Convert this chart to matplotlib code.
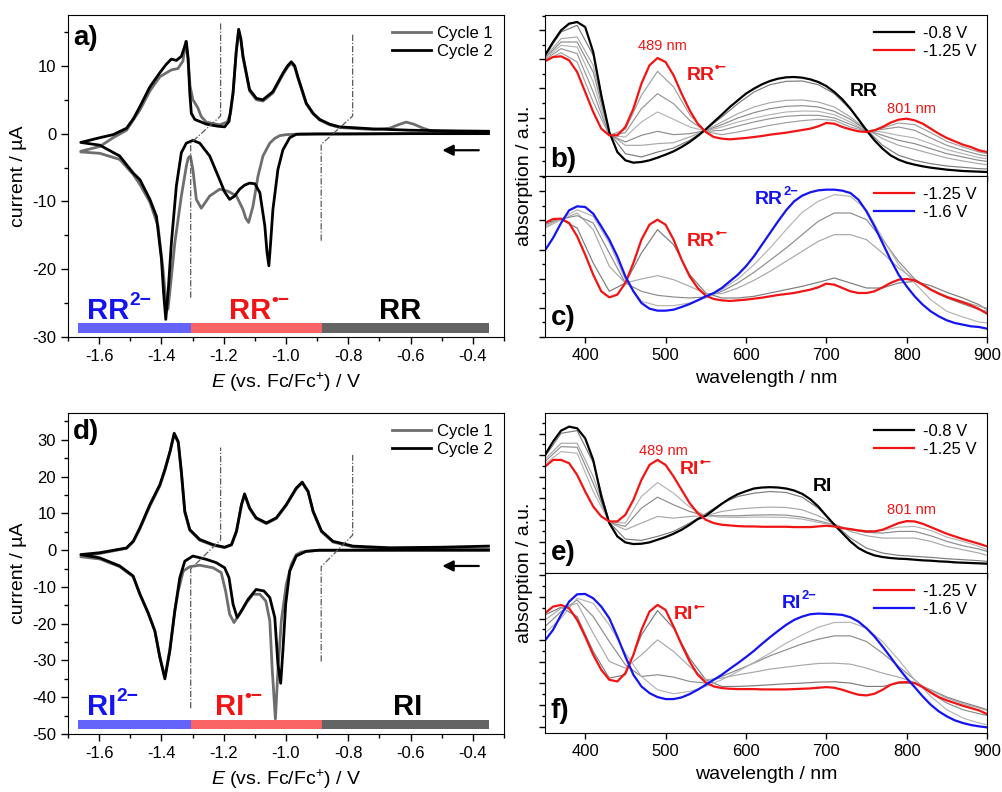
import numpy as np
import matplotlib
matplotlib.use("Agg")
import matplotlib.pyplot as plt
from matplotlib.ticker import MultipleLocator, FormatStrFormatter, NullFormatter

plt.rcParams["font.family"] = ["Liberation Sans", "DejaVu Sans"]
plt.rcParams["mathtext.fontset"] = "custom"
plt.rcParams["mathtext.rm"] = "Liberation Sans"
plt.rcParams["mathtext.it"] = "Liberation Sans:italic"
plt.rcParams["mathtext.bf"] = "Liberation Sans:bold"
plt.rcParams["axes.unicode_minus"] = False

# ---------------- CV data (E / V vs Fc/Fc+, I / uA) ----------------
# panel a, cycle 2: cathodic branch (right -> left), anodic branch (left -> right)
a_c2_red_E = [-0.35, -0.60, -0.80, -0.90, -0.967, -0.988, -1.010, -1.026, -1.042, -1.050,
              -1.055, -1.061, -1.068, -1.084, -1.100, -1.117, -1.133, -1.149, -1.165, -1.181,
              -1.197, -1.213, -1.245, -1.277, -1.299, -1.320, -1.336, -1.352, -1.368, -1.378,
              -1.386, -1.393, -1.400, -1.416, -1.437, -1.469, -1.491, -1.534, -1.598, -1.659]
a_c2_red_I = [0.0, 0.0, -0.05, -0.05, -0.1, -0.6, -2.4, -5.3, -11.2, -16.5,
              -19.5, -17.5, -13.6, -8.7, -7.4, -7.3, -7.6, -8.2, -9.2, -9.7,
              -8.6, -6.8, -3.3, -1.4, -1.0, -1.4, -2.8, -7.7, -16.1, -23.0,
              -27.4, -23.5, -18.5, -12.2, -9.7, -6.8, -5.8, -3.3, -1.7, -1.3]
a_c2_ox_E = [-1.598, -1.555, -1.512, -1.490, -1.469, -1.437, -1.405, -1.385, -1.368, -1.352,
             -1.336, -1.328, -1.320, -1.314, -1.309, -1.304, -1.293, -1.256, -1.220, -1.197,
             -1.183, -1.170, -1.160, -1.152, -1.145, -1.138, -1.117, -1.095, -1.074, -1.042,
             -1.010, -0.995, -0.983, -0.972, -0.962, -0.935, -0.913, -0.892, -0.860, -0.828,
             -0.72, -0.60, -0.45, -0.35]
a_c2_ox_I = [-0.6, -0.15, 0.8, 2.2, 4.0, 6.9, 9.0, 10.2, 11.0, 10.8,
             11.4, 12.5, 13.6, 11.0, 6.0, 3.0, 2.1, 1.4, 1.1, 1.0,
             1.8, 6.0, 12.0, 15.4, 14.0, 11.4, 6.5, 5.2, 5.0, 6.2,
             8.9, 10.0, 10.6, 10.0, 8.4, 4.5, 3.0, 2.1, 1.4, 1.0,
             0.7, 0.5, 0.4, 0.35]

# panel a, cycle 1
a_c1_red_E = [-0.35, -0.60, -0.90, -0.95, -1.000, -1.020, -1.036, -1.052, -1.074, -1.090,
              -1.106, -1.120, -1.129, -1.138, -1.159, -1.186, -1.213, -1.245, -1.272, -1.288,
              -1.299, -1.307, -1.314, -1.320, -1.336, -1.357, -1.370, -1.379, -1.387, -1.395,
              -1.411, -1.437, -1.469, -1.491, -1.534, -1.598, -1.659]
a_c1_red_I = [0.0, 0.0, -0.05, -0.05, -0.15, -0.3, -0.7, -1.4, -3.3, -6.3,
              -10.7, -13.1, -12.5, -11.2, -9.2, -8.5, -8.2, -9.2, -11.0, -9.7,
              -5.3, -3.3, -3.6, -4.8, -9.2, -16.1, -22.0, -25.9, -24.0, -20.0,
              -13.6, -10.1, -7.5, -6.0, -3.8, -2.9, -2.7]
a_c1_ox_E = [-1.659, -1.598, -1.555, -1.512, -1.469, -1.437, -1.405, -1.368, -1.347, -1.331,
             -1.322, -1.315, -1.308, -1.299, -1.283, -1.272, -1.256, -1.213, -1.189, -1.178,
             -1.170, -1.160, -1.152, -1.145, -1.138, -1.117, -1.095, -1.074, -1.042, -1.010,
             -0.995, -0.983, -0.972, -0.962, -0.935, -0.913, -0.892, -0.860, -0.828, -0.72,
             -0.667, -0.640, -0.614, -0.590, -0.560, -0.53, -0.45, -0.35]
a_c1_ox_I = [-2.6, -1.9, -0.6, 0.5, 3.5, 6.3, 8.4, 9.4, 9.6, 10.7,
             13.6, 11.0, 7.0, 5.0, 3.8, 2.5, 1.7, 1.3, 1.7, 3.0,
             6.0, 12.0, 15.2, 13.8, 11.2, 6.3, 5.0, 4.8, 6.0, 8.7,
             9.8, 10.4, 9.8, 8.2, 4.4, 2.9, 2.0, 1.3, 0.9, 0.6,
             0.8, 1.3, 1.7, 1.4, 0.8, 0.35, 0.3, 0.3]

# panel d, cycle 2
d_c2_red_E = [-0.35, -0.60, -0.892, -0.935, -0.967, -0.988, -1.001, -1.010, -1.017, -1.026,
              -1.036, -1.052, -1.071, -1.096, -1.122, -1.143, -1.157, -1.170, -1.183, -1.197,
              -1.224, -1.256, -1.299, -1.325, -1.341, -1.357, -1.373, -1.389, -1.405, -1.421,
              -1.443, -1.469, -1.491, -1.534, -1.598, -1.659]
d_c2_red_I = [0.0, 0.0, 0.0, -0.3, -1.6, -5.7, -14.7, -27.4, -36.2, -31.0,
              -18.3, -12.9, -11.1, -10.7, -13.4, -16.5, -18.3, -14.7, -7.5, -4.8,
              -3.4, -2.5, -1.6, -3.0, -7.5, -16.5, -27.4, -35.0, -29.2, -22.0,
              -17.0, -12.0, -7.0, -4.3, -2.1, -1.2]
d_ox_E = [-1.659, -1.598, -1.512, -1.490, -1.469, -1.437, -1.405, -1.389, -1.372, -1.359,
          -1.346, -1.336, -1.325, -1.309, -1.277, -1.234, -1.197, -1.175, -1.159, -1.143,
          -1.133, -1.117, -1.096, -1.063, -1.031, -0.999, -0.967, -0.948, -0.929, -0.913,
          -0.886, -0.849, -0.785, -0.667, -0.50, -0.35]
d_c2_ox_I = [-1.2, -0.7, 0.6, 2.5, 6.1, 12.4, 17.8, 21.9, 27.0, 31.8,
             29.5, 21.4, 10.6, 5.6, 2.9, 1.5, 0.8, 1.5, 5.2, 12.4,
             15.3, 11.5, 8.8, 7.4, 8.8, 12.4, 16.9, 18.5, 16.0, 10.6,
             5.2, 2.4, 1.1, 0.65, 0.8, 1.1]

# panel d, cycle 1
d_c1_red_E = [-0.35, -0.60, -0.90, -0.950, -0.967, -0.983, -0.999, -1.015, -1.026, -1.034,
              -1.044, -1.052, -1.065, -1.084, -1.106, -1.127, -1.149, -1.167, -1.181, -1.194,
              -1.208, -1.234, -1.277, -1.309, -1.330, -1.346, -1.357, -1.373, -1.389, -1.405,
              -1.421, -1.443, -1.469, -1.491, -1.534, -1.598, -1.659]
d_c1_red_I = [0.0, 0.0, -0.1, -0.5, -1.2, -3.9, -9.3, -19.2, -32.8, -45.9,
              -32.8, -19.2, -13.8, -12.0, -12.0, -14.3, -17.4, -19.7, -17.4, -11.1,
              -6.1, -4.8, -4.1, -4.5, -5.7, -11.1, -16.5, -27.0, -34.5, -29.0,
              -22.0, -17.0, -12.0, -7.2, -4.5, -2.4, -1.8]
d_c1_ox_I = [-1.8, -0.9, 0.5, 2.3, 5.8, 12.0, 17.5, 21.6, 26.8, 31.5,
             29.2, 21.0, 10.3, 5.4, 2.7, 1.3, 0.7, 1.4, 5.0, 12.2,
             15.0, 11.3, 8.6, 7.2, 8.6, 12.2, 16.7, 18.3, 15.8, 10.4,
             5.0, 2.2, 0.9, 0.4, 0.3, 0.3]

# guide lines (dash-dot) and redox-state bars
a_guide1 = ([-1.306, -1.306, -1.210, -1.210], [-24.2, -1.4, 2.6, 16.4])
a_guide2 = ([-0.887, -0.887, -0.786, -0.786], [-15.8, -1.6, 2.6, 14.7])
d_guide1 = ([-1.306, -1.306, -1.210, -1.210], [-43.0, -5.1, 2.8, 27.9])
d_guide2 = ([-0.887, -0.887, -0.786, -0.786], [-30.3, -4.5, 4.1, 25.9])
bar_left = [-1.667, -1.306, -0.883]
bar_right = [-1.306, -0.883, -0.349]
bar_colors = ["#6464fa", "#fa6464", "#646464"]

# ---------------- spectra (absorption, arbitrary units) ----------------
wl = np.arange(350, 901, 10)
wl_g = np.append(np.arange(350, 900, 20), 900)

b_black = [362, 402, 437, 457, 462, 447, 372, 242, 132, 72, 47, 40, 42, 47, 55, 64, 74, 87, 102, 120,
           140, 162, 184, 207, 227, 247, 262, 275, 285, 292, 296, 297, 295, 290, 282, 270, 252, 230, 202, 170,
           137, 107, 82, 62, 49, 40, 34, 29, 25, 22, 19, 17, 15, 14, 13, 12]
b_red = [344, 357, 359, 347, 312, 252, 192, 142, 122, 122, 147, 202, 277, 332, 354, 342, 302, 247, 197, 157,
         132, 117, 112, 110, 112, 114, 117, 120, 124, 127, 130, 134, 138, 142, 149, 159, 157, 147, 140, 134,
         132, 137, 147, 160, 169, 172, 167, 157, 142, 127, 114, 104, 94, 87, 77, 72]
b_gray = [
    [360, 432, 452, 362, 130, 67, 57, 72, 84, 107, 140, 177, 217, 252, 274, 284, 285, 274, 247, 200, 140, 92, 62, 47, 37, 30, 26, 22, 21],
    [357, 412, 417, 332, 127, 92, 92, 97, 100, 117, 137, 162, 187, 207, 220, 227, 228, 222, 207, 177, 140, 112, 92, 80, 67, 54, 45, 37, 34],
    [354, 402, 402, 312, 124, 102, 122, 134, 124, 127, 136, 154, 174, 190, 202, 209, 211, 207, 194, 170, 138, 122, 107, 97, 82, 67, 57, 47, 44],
    [352, 392, 387, 282, 122, 117, 162, 192, 170, 147, 135, 147, 162, 174, 184, 192, 195, 194, 184, 162, 136, 132, 122, 114, 97, 79, 67, 55, 52],
    [349, 382, 367, 252, 122, 130, 202, 247, 217, 167, 134, 137, 150, 162, 172, 179, 182, 182, 174, 155, 135, 140, 147, 137, 114, 92, 77, 64, 60],
    [346, 370, 342, 222, 122, 140, 242, 314, 267, 184, 133, 124, 132, 142, 152, 160, 166, 170, 167, 147, 134, 144, 159, 154, 130, 104, 87, 72, 67],
]

c_red = [342, 354, 355, 342, 302, 247, 187, 137, 119, 127, 162, 222, 292, 337, 352, 337, 292, 232, 182, 147,
         124, 114, 110, 108, 110, 112, 115, 118, 122, 126, 129, 132, 137, 142, 149, 160, 157, 147, 137, 132,
         132, 137, 149, 162, 172, 174, 170, 157, 142, 130, 120, 112, 104, 95, 84, 70]
c_blue = [260, 297, 342, 380, 392, 390, 370, 332, 292, 242, 182, 137, 102, 85, 79, 79, 82, 90, 99, 110,
          122, 132, 147, 167, 187, 212, 242, 277, 312, 347, 380, 407, 424, 434, 440, 442, 442, 439, 432, 412,
          377, 332, 282, 232, 187, 152, 122, 97, 77, 62, 50, 42, 37, 32, 30, 25]
c_gray = [
    [344, 352, 327, 222, 137, 162, 252, 322, 277, 187, 132, 117, 117, 122, 132, 142, 152, 164, 177, 162, 147, 147, 162, 167, 154, 134, 117, 97, 82],
    [327, 352, 372, 322, 212, 162, 174, 184, 172, 152, 130, 130, 147, 170, 197, 227, 257, 287, 307, 307, 292, 252, 207, 172, 144, 122, 107, 92, 87],
    [337, 354, 364, 342, 252, 162, 137, 125, 120, 117, 120, 137, 162, 194, 230, 267, 307, 347, 372, 372, 352, 292, 227, 174, 142, 117, 99, 82, 77],
    [332, 354, 382, 362, 282, 172, 107, 94, 94, 102, 117, 142, 174, 217, 267, 322, 374, 407, 427, 422, 382, 297, 217, 162, 112, 77, 60, 45, 42],
]

e_black = [355, 395, 428, 440, 435, 405, 340, 230, 150, 110, 92, 87, 88, 92, 100, 108, 118, 130, 145, 162,
           172, 190, 208, 224, 237, 246, 254, 257, 258, 257, 254, 248, 238, 222, 200, 172, 145, 120, 95, 75,
           62, 53, 48, 45, 43, 42, 40, 38, 37, 35, 34, 32, 31, 30, 29, 28]
e_red = [320, 340, 340, 330, 295, 245, 200, 170, 155, 155, 175, 220, 280, 325, 340, 325, 290, 250, 210, 180,
         160, 150, 145, 143, 141, 140, 140, 139, 139, 139, 139, 138, 138, 138, 140, 142, 140, 135, 132, 128,
         125, 125, 130, 140, 150, 156, 155, 148, 138, 128, 118, 110, 102, 95, 88, 80]
e_gray = [
    [350, 420, 428, 332, 152, 102, 98, 110, 125, 150, 178, 210, 230, 240, 245, 242, 228, 195, 148, 105, 75, 60, 53, 50, 47, 43, 40, 37, 35],
    [342, 390, 390, 290, 152, 130, 150, 170, 165, 170, 172, 185, 192, 196, 198, 197, 190, 172, 148, 125, 112, 105, 105, 105, 95, 80, 70, 60, 53],
    [335, 380, 378, 270, 152, 140, 195, 228, 205, 185, 172, 172, 172, 174, 175, 174, 168, 157, 145, 130, 122, 120, 125, 125, 112, 95, 82, 72, 65],
    [328, 365, 360, 245, 153, 150, 230, 272, 240, 198, 172, 168, 167, 168, 168, 167, 162, 152, 144, 132, 127, 128, 138, 140, 128, 108, 95, 80, 70],
]

f_red = [360, 380, 385, 375, 340, 290, 235, 190, 160, 155, 180, 235, 310, 365, 385, 370, 320, 265, 215, 175,
         152, 140, 135, 133, 132, 132, 132, 131, 131, 131, 131, 132, 133, 134, 136, 138, 136, 130, 122, 115,
         113, 118, 130, 145, 152, 153, 150, 138, 122, 108, 98, 90, 82, 75, 68, 57]
f_blue = [278, 310, 355, 395, 417, 418, 405, 380, 345, 290, 230, 175, 140, 120, 108, 102, 102, 107, 117, 130,
          145, 160, 175, 193, 210, 228, 247, 268, 288, 307, 325, 340, 350, 357, 359, 358, 357, 355, 348, 335,
          315, 290, 260, 228, 195, 165, 138, 110, 85, 65, 50, 38, 30, 24, 20, 17]
f_gray = [
    [355, 378, 350, 245, 165, 175, 295, 368, 315, 225, 160, 140, 140, 142, 145, 148, 150, 153, 154, 150, 140, 140, 150, 150, 130, 108, 92, 78, 70],
    [340, 375, 390, 300, 215, 195, 235, 280, 245, 200, 160, 165, 175, 183, 192, 198, 204, 209, 210, 207, 195, 180, 168, 152, 128, 105, 88, 75, 68],
    [320, 365, 400, 350, 275, 205, 170, 175, 168, 155, 150, 170, 190, 210, 232, 250, 268, 282, 292, 292, 275, 240, 200, 160, 120, 90, 70, 58, 53],
    [300, 345, 405, 390, 325, 240, 170, 130, 118, 125, 140, 160, 185, 212, 240, 270, 295, 318, 332, 333, 315, 275, 220, 160, 110, 70, 45, 30, 25],
]

RED = "#f21414"
BLUE = "#1414f2"
GRAY1 = "#6e6e6e"
gray_shades = ["#7c7c7c", "#a8a8a8", "#8c8c8c", "#b4b4b4", "#959595", "#a0a0a0"]

fig = plt.figure(figsize=(10.03, 7.92), dpi=100)
W, H = 1003.0, 792.0


def rect(x0, x1, y0, y1):
    # pixel box -> figure fraction
    return [x0 / W, 1 - y1 / H, (x1 - x0) / W, (y1 - y0) / H]


def species(ax, x, y, base, sup, color, size):
    t = ax.text(x, y, base, color=color, fontsize=size, fontweight="bold", ha="left", va="center")
    if sup:
        ax.annotate(sup, xy=(1, 1), xycoords=t, xytext=(0.3, 3.5), textcoords="offset points",
                    ha="left", va="top", color=color, fontsize=size * 0.66, fontweight="bold")
    return t


def cv_panel(r, ylim, c1, c2, guides, bar_y, letter_y, letter, arrow_y):
    ax = fig.add_axes(r)
    (e1, i1), (e2, i2) = c1, c2
    ax.plot(e1, i1, color=GRAY1, lw=2.0, solid_joinstyle="round", label="Cycle 1")
    ax.plot(e2, i2, color="black", lw=2.0, solid_joinstyle="round", label="Cycle 2")
    for ge, gi in guides:
        ax.plot(ge, gi, color="#5a5a5a", lw=0.9, ls=(0, (5, 1.5, 1, 1.5)))
    for l, rr, col in zip(bar_left, bar_right, bar_colors):
        ax.barh(bar_y[0], rr - l, left=l, height=bar_y[1], color=col, edgecolor="none")
    ax.annotate("", xy=(-0.507, arrow_y), xytext=(-0.372, arrow_y),
                arrowprops=dict(arrowstyle="-|>", color="black", lw=1.6, mutation_scale=16))
    ax.set_xlim(-1.70, -0.30)
    ax.set_ylim(*ylim)
    ax.xaxis.set_major_locator(MultipleLocator(0.2))
    ax.xaxis.set_minor_locator(MultipleLocator(0.1))
    ax.yaxis.set_major_locator(MultipleLocator(10))
    ax.yaxis.set_minor_locator(MultipleLocator(5))
    ax.xaxis.set_major_formatter(FormatStrFormatter("%.1f"))
    ax.tick_params(which="both", direction="out", labelsize=12, width=1)
    ax.tick_params(which="major", length=5)
    ax.tick_params(which="minor", length=3)
    ax.set_xlabel(r"$E$ (vs. Fc/Fc$^{+}$) / V", fontsize=14, labelpad=5)
    ax.set_ylabel("current / \u00b5A", fontsize=14)
    ax.legend(loc="upper right", frameon=False, fontsize=12, handlelength=2.3,
              labelspacing=0.2, borderaxespad=0.25, handletextpad=0.4)
    ax.text(0.012, letter_y, letter, transform=ax.transAxes,
            fontsize=20, fontweight="bold", va="center", ha="left")
    return ax


# ---------------- CV panels ----------------
ax_a = cv_panel(rect(68, 504, 15, 337), (-30, 17.5),
                (a_c1_red_E + a_c1_ox_E, a_c1_red_I + a_c1_ox_I),
                (a_c2_red_E + a_c2_ox_E, a_c2_red_I + a_c2_ox_I),
                [a_guide1, a_guide2], (-28.65, 1.5), 0.93, "a)", -2.45)
species(ax_a, -1.639, -26.1, "RR", "2\u2212", BLUE, 21)
species(ax_a, -1.183, -26.1, "RR", "\u2022\u2212", RED, 21)
species(ax_a, -0.700, -26.1, "RR", None, "black", 21)

ax_d = cv_panel(rect(68, 504, 413, 734), (-50, 37.3),
                (d_c1_red_E + d_ox_E, d_c1_red_I + d_c1_ox_I),
                (d_c2_red_E + d_ox_E, d_c2_red_I + d_c2_ox_I),
                [d_guide1, d_guide2], (-47.4, 2.5), 0.94, "d)", -4.3)
species(ax_d, -1.639, -42.6, "RI", "2\u2212", BLUE, 21)
species(ax_d, -1.229, -42.6, "RI", "\u2022\u2212", RED, 21)
species(ax_d, -0.657, -42.6, "RI", None, "black", 21)


# ---------------- spectra panels ----------------
def spec_panel(r, top, grays, main, main_colors, main_labels, tick_offset, bottom_axis):
    ax = fig.add_axes(r)
    for k, g in enumerate(grays):
        ax.plot(wl_g, g, color=gray_shades[k % len(gray_shades)], lw=0.85)
    for y, col, lab in zip(main, main_colors, main_labels):
        ax.plot(wl, y, color=col, lw=1.6, label=lab)
    ax.set_xlim(350, 900)
    ax.set_ylim(0, top)
    ax.xaxis.set_major_locator(MultipleLocator(100))
    ax.yaxis.set_major_locator(MultipleLocator(tick_offset[0], offset=tick_offset[1]))
    ax.yaxis.set_minor_locator(MultipleLocator(tick_offset[0] / 2, offset=tick_offset[1]))
    ax.yaxis.set_major_formatter(NullFormatter())
    ax.tick_params(which="both", direction="out", labelsize=12, width=1)
    ax.tick_params(which="major", length=4.5)
    ax.tick_params(which="minor", length=2.5)
    if bottom_axis:
        ax.set_xlabel("wavelength / nm", fontsize=14, labelpad=5)
    else:
        ax.xaxis.set_major_formatter(NullFormatter())
    ax.legend(loc="upper right", frameon=False, fontsize=12, handlelength=2.4,
              labelspacing=0.2, borderaxespad=0.25, handletextpad=0.5)
    return ax


ax_b = spec_panel(rect(545, 987, 15, 176), 483, b_gray, [b_black, b_red], ["black", RED],
                  ["-0.8 V", "-1.25 V"], (87.5, 0), False)
ax_b.text(496, 389, "489 nm", color=RED, fontsize=10.5, ha="center", va="center")
ax_b.text(806, 202, "801 nm", color=RED, fontsize=10.5, ha="center", va="center")
species(ax_b, 526, 302, "RR", "\u2022\u2212", RED, 14)
species(ax_b, 729, 254, "RR", None, "black", 14)
ax_b.text(357, 49, "b)", fontsize=20, fontweight="bold", va="center", ha="left")

ax_c = spec_panel(rect(545, 987, 176, 337), 483, c_gray, [c_red, c_blue], [RED, BLUE],
                  ["-1.25 V", "-1.6 V"], (87.5, 0), True)
species(ax_c, 611, 412, "RR", "2\u2212", BLUE, 14)
species(ax_c, 527, 287, "RR", "\u2022\u2212", RED, 14)
ax_c.text(357, 57, "c)", fontsize=20, fontweight="bold", va="center", ha="left")

ax_e = spec_panel(rect(545, 987, 413, 573), 481, e_gray, [e_black, e_red], ["black", RED],
                  ["-0.8 V", "-1.25 V"], (65, 29), False)
ax_e.text(497, 367, "489 nm", color=RED, fontsize=10.5, ha="center", va="center")
ax_e.text(806, 188, "801 nm", color=RED, fontsize=10.5, ha="center", va="center")
species(ax_e, 518, 310, "RI", "\u2022\u2212", RED, 14)
species(ax_e, 683, 260, "RI", None, "black", 14)
ax_e.text(357, 60, "e)", fontsize=20, fontweight="bold", va="center", ha="left")

ax_f = spec_panel(rect(545, 987, 573, 733), 481, f_gray, [f_red, f_blue], [RED, BLUE],
                  ["-1.25 V", "-1.6 V"], (65, 19), True)
species(ax_f, 510, 355, "RI", "\u2022\u2212", RED, 14)
species(ax_f, 644, 390, "RI", "2\u2212", BLUE, 14)
ax_f.text(357, 65, "f)", fontsize=20, fontweight="bold", va="center", ha="left")

fig.text(525 / W, 1 - 176 / H, "absorption / a.u.", rotation=90, fontsize=14, ha="center", va="center")
fig.text(525 / W, 1 - 573 / H, "absorption / a.u.", rotation=90, fontsize=14, ha="center", va="center")

fig.savefig("out.png", dpi=100, facecolor="white")
